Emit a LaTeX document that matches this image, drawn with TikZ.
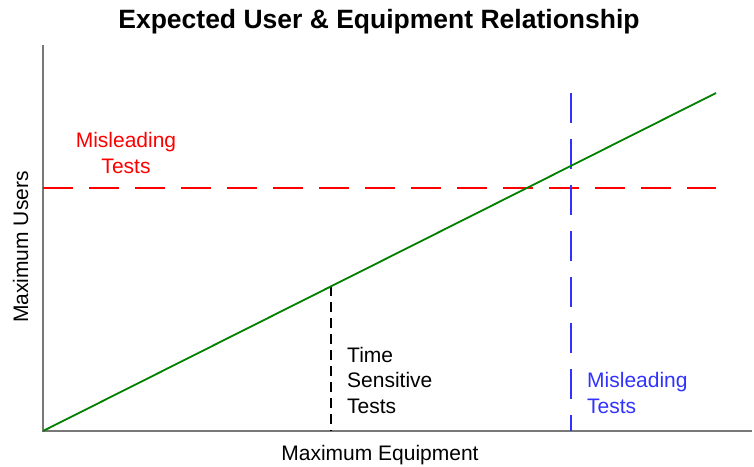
\documentclass[tikz,border=0pt]{standalone}
\usepackage{fontspec}
\setmainfont{Liberation Sans}
\definecolor{axisgray}{RGB}{120,120,120}
\definecolor{linegreen}{RGB}{0,128,0}
\definecolor{lblred}{RGB}{255,0,0}
\definecolor{lblblue}{RGB}{50,50,255}
\tikzset{
  axisline/.style={draw=axisgray, line width=1.5pt},
  trendline/.style={draw=linegreen, line width=1.8pt},
  longdash/.style={line width=1.8pt, dash pattern=on 30pt off 16pt},
  shortdash/.style={draw=black, line width=1.8pt, dash pattern=on 10pt off 6pt},
  lbl/.style={inner sep=0pt, font=\fontsize{21}{25.5}\selectfont},
}
\begin{document}
\begin{tikzpicture}[x=1pt, y=-1pt]
\useasboundingbox (0,0) rectangle (754,466);
\fill[white] (0,0) rectangle (754,466);
% key points
\coordinate (O) at (43,431);
\coordinate (YT) at (43,45);
\coordinate (XE) at (752,431);
\coordinate (E) at (716,93);
\coordinate (R1) at (43,188);
\coordinate (R2) at (716,188);
\coordinate (B1) at (571,93);
\coordinate (B2) at (571,431);
\coordinate (K1) at (331,286);
\coordinate (K2) at (331,431);
% axes
\draw[axisline] (YT) -- (O) -- (XE);
% dashed reference lines
\draw[longdash, draw=lblred] (R1) -- (R2);
\draw[longdash, draw=lblblue] (B1) -- (B2);
\draw[shortdash] (K1) -- (K2);
% trend
\draw[trendline] (O) -- (E);
% texts
\node[lbl, anchor=base, font=\fontsize{26.5}{30}\selectfont\bfseries] (title) at (379,28) {Expected User \& Equipment Relationship};
\node[lbl, anchor=base, align=center, text=lblred] (redlbl) at (126,173) {Misleading\\Tests};
\node[lbl, anchor=base west, align=left, text=black] (timelbl) at (347,413) {Time\\Sensitive\\Tests};
\node[lbl, anchor=base west, align=left, text=lblblue] (bluelbl) at (587,413) {Misleading\\Tests};
\node[lbl, anchor=base] (xlbl) at (380,460) {Maximum Equipment};
\node[lbl, anchor=base, rotate=90] (ylbl) at (28,247) {Maximum Users};
\end{tikzpicture}
\end{document}
